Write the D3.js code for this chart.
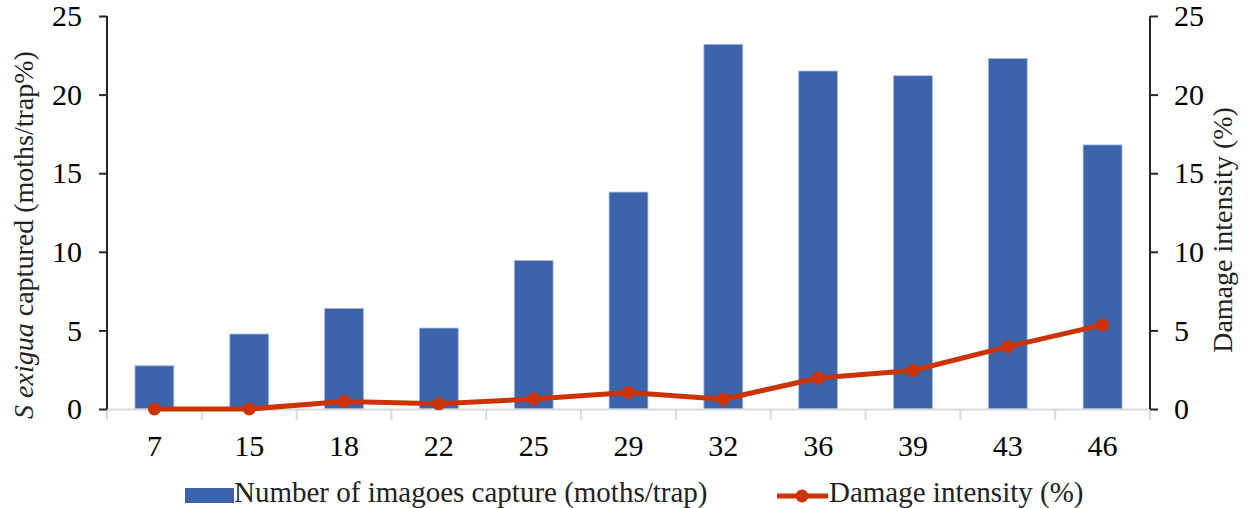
<!DOCTYPE html>
<html>
<head>
<meta charset="utf-8">
<script src="https://cdn.jsdelivr.net/npm/d3@7"></script>
<style>
  body { margin: 0; background: #fff; }
  svg { display: block; }
  svg text { font-family: "Liberation Serif", "Times New Roman", Times, serif !important; }
</style>
</head>
<body>
<svg id="chart" width="1250" height="508"></svg>
<script>
// data
const weeks = ["7", "15", "18", "22", "25", "29", "32", "36", "39", "43", "46"];
const moths = [2.75, 4.77, 6.4, 5.15, 9.45, 13.8, 23.2, 21.5, 21.2, 22.3, 16.8];
const damage = [0, 0, 0.48, 0.33, 0.64, 1.05, 0.62, 1.97, 2.45, 3.97, 5.35];
const yTicks = [0, 5, 10, 15, 20, 25];

const plotLeft = 107, plotRight = 1150, plotTop = 16, plotBottom = 409;
const barColor = "#3d64ab", lineColor = "#cc3300";

const svg = d3.select("#chart");

const x = d3.scaleBand()
  .domain(weeks)
  .range([plotLeft, plotRight])
  .paddingInner(0.59)
  .paddingOuter(0.295);

// band positions for the gray category ticks
const xCat = d3.scaleBand().domain(weeks).range([plotLeft, plotRight]);

const yL = d3.scaleLinear().domain([0, 25]).range([plotBottom, plotTop]);
const yR = d3.scaleLinear().domain([0, 25]).range([plotBottom, plotTop]);

// bars
svg.selectAll(".bar")
  .data(moths)
  .enter().append("rect")
  .attr("class", "bar")
  .attr("x", (d, i) => x(weeks[i]))
  .attr("y", d => yL(d))
  .attr("width", x.bandwidth())
  .attr("height", d => plotBottom - yL(d))
  .attr("fill", barColor)
  .attr("stroke", "#a9bde0")
  .attr("stroke-width", 0.8);

// x baseline with gray ticks between categories
const xAxis = svg.append("g")
  .attr("transform", "translate(0," + plotBottom + ")")
  .call(d3.axisBottom(xCat).tickSize(0).tickPadding(26));
xAxis.select(".domain").attr("stroke", "#d9d9d9").attr("stroke-width", 2);
xAxis.selectAll("text")
  .attr("font-size", 30)
  .attr("fill", "#000");
svg.append("g")
  .selectAll("line")
  .data(weeks.concat(["end"]))
  .enter().append("line")
  .attr("x1", (d, i) => plotLeft + i * xCat.step())
  .attr("x2", (d, i) => plotLeft + i * xCat.step())
  .attr("y1", plotBottom)
  .attr("y2", plotBottom + 11)
  .attr("stroke", "#d9d9d9")
  .attr("stroke-width", 2);

// left axis
const axL = svg.append("g")
  .attr("transform", "translate(" + plotLeft + ",0)")
  .call(d3.axisLeft(yL).tickValues(yTicks).tickSize(8).tickPadding(17));
axL.selectAll("path, line").attr("stroke", "#262626").attr("stroke-width", 2);
axL.select(".domain").attr("d", "M0," + plotTop + "V" + plotBottom);
axL.selectAll("text").attr("font-size", 30).attr("fill", "#000");

// right axis
const axR = svg.append("g")
  .attr("transform", "translate(" + plotRight + ",0)")
  .call(d3.axisRight(yR).tickValues(yTicks).tickSize(8).tickPadding(16));
axR.selectAll("path, line").attr("stroke", "#262626").attr("stroke-width", 2);
axR.select(".domain").attr("d", "M0," + plotTop + "V" + plotBottom);
axR.selectAll("text").attr("font-size", 30).attr("fill", "#000");

// damage line
const cx = (d, i) => x(weeks[i]) + x.bandwidth() / 2;
const line = d3.line()
  .x(cx)
  .y(d => yR(d));

svg.append("path")
  .datum(damage)
  .attr("d", line)
  .attr("fill", "none")
  .attr("stroke", lineColor)
  .attr("stroke-width", 5)
  .attr("stroke-linejoin", "round");

svg.selectAll(".dot")
  .data(damage)
  .enter().append("circle")
  .attr("class", "dot")
  .attr("cx", cx)
  .attr("cy", d => yR(d))
  .attr("r", 6.5)
  .attr("fill", lineColor);

// axis titles
const tl = svg.append("text")
  .attr("transform", "translate(33,235) rotate(-90)")
  .attr("text-anchor", "middle")
  .attr("font-size", 28)
  .attr("fill", "#222");
tl.append("tspan").text("S ").attr("font-style", "italic");
tl.append("tspan").text("exigua").attr("font-style", "italic");
tl.append("tspan").text(" captured (moths/trap%)");

svg.append("text")
  .attr("transform", "translate(1232,230) rotate(-90)")
  .attr("text-anchor", "middle")
  .attr("font-size", 28)
  .attr("fill", "#222")
  .text("Damage intensity (%)");

// legend
svg.append("rect")
  .attr("x", 185).attr("y", 488)
  .attr("width", 49).attr("height", 15)
  .attr("fill", barColor);
svg.append("text")
  .attr("x", 234).attr("y", 502)
  .attr("font-size", 29)
  .attr("fill", "#222")
  .text("Number of imagoes capture (moths/trap)");

svg.append("line")
  .attr("x1", 777).attr("x2", 828)
  .attr("y1", 496).attr("y2", 496)
  .attr("stroke", lineColor)
  .attr("stroke-width", 5);
svg.append("circle")
  .attr("cx", 802).attr("cy", 496).attr("r", 6.5)
  .attr("fill", lineColor);
svg.append("text")
  .attr("x", 829).attr("y", 502)
  .attr("font-size", 29)
  .attr("fill", "#222")
  .text("Damage intensity (%)");
</script>
</body>
</html>
